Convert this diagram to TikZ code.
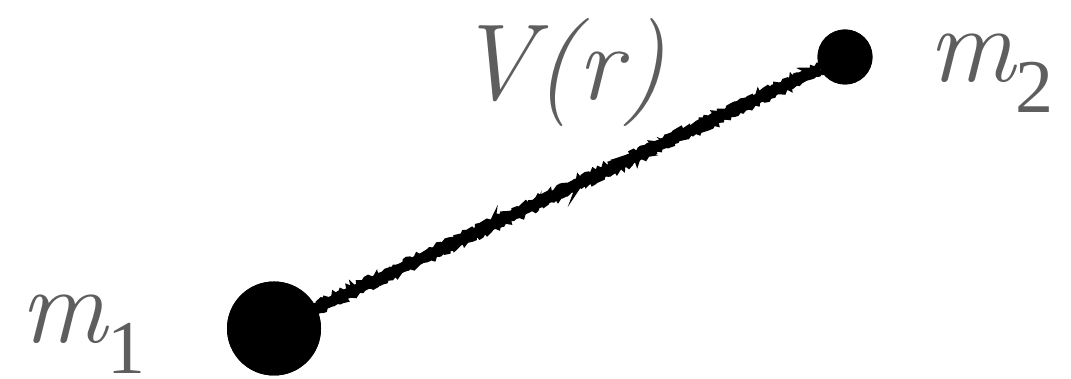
\documentclass[tikz,border=0pt]{standalone}
\usepackage{fontspec}
\setmainfont{Liberation Serif}
\usetikzlibrary{decorations.pathmorphing}
\definecolor{lbl}{HTML}{5E5E5E}
\newcommand{\lmit}{\fontfamily{lmr}\fontshape{it}\selectfont}
\tikzset{
  mass/.style={circle, fill=black, inner sep=0pt},
  lab/.style={text=lbl, inner sep=0pt, anchor=base west, font=\fontsize{108}{120}\selectfont\lmit},
  rough/.style={draw=black, line width=#1, decorate, decoration={random steps, segment length=2.5pt, amplitude=2.2pt}},
}
\newcommand{\subsz}[1]{\kern1pt\raisebox{-31pt}{\fontsize{76}{76}\selectfont\rmfamily\upshape #1}}
\begin{document}
\begin{tikzpicture}[x=1pt,y=1pt]
\pgfmathsetseed{7}
\useasboundingbox (0,0) rectangle (1071,379);
\node[mass, minimum size=94pt] (m1) at (274,50.5) {};
\node[mass, minimum size=55pt] (m2) at (845,322) {};
\draw[line width=10pt] (m1) -- (m2);
\draw[rough=4pt] ([yshift=4.5pt]m1.center) -- ([yshift=4.5pt]m2.center);
\draw[rough=4pt] ([yshift=-4.5pt]m1.center) -- ([yshift=-4.5pt]m2.center);
\draw[rough=3pt] ([yshift=1pt]m1.center) -- ([yshift=1pt]m2.center);
\node[mass, minimum size=94pt] at (m1.center) {};
\node[mass, minimum size=55pt] at (m2.center) {};
\node[lab] (l1) at (20,36) {m\subsz{1}};
\node[lab] (l2) at (928,297) {m\subsz{2}};
\node[lab] (v) at (456,279) {V(r)};
\end{tikzpicture}
\end{document}
